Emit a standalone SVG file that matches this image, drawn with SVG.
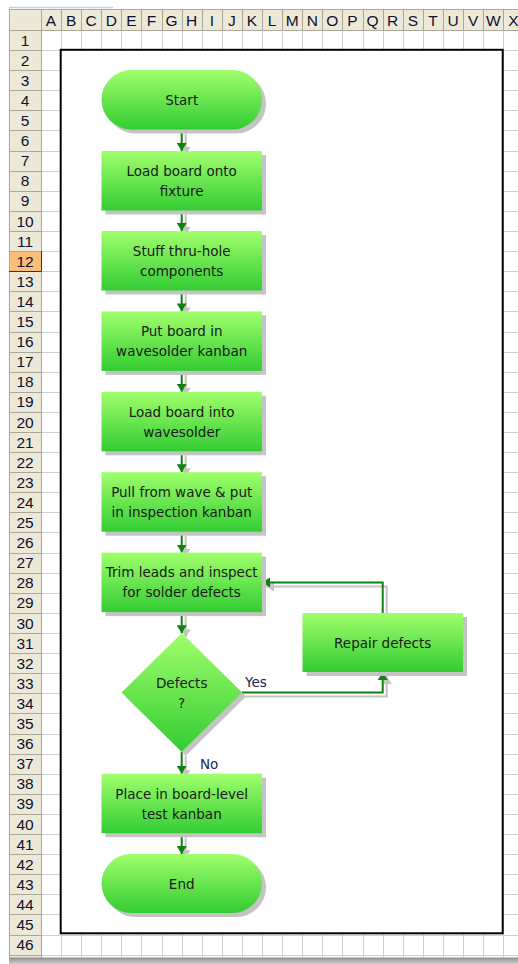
<svg xmlns="http://www.w3.org/2000/svg" width="518" height="964" viewBox="0 0 518 964">
  <style>
    .hdr { fill: #ECE9D8; }
    .hdrsep { stroke: #ACA899; stroke-width: 1; fill: none; }
    .grid { stroke: #CFCFCF; stroke-width: 1; fill: none; }
    .hl { font-family: "Liberation Sans", Arial, sans-serif; font-size: 15.5px; fill: #10102e; text-anchor: middle; }
    .lbl { font-family: "DejaVu Sans", Verdana, sans-serif; font-size: 13.5px; fill: #1a1a1a; text-anchor: middle; }
    .yn { font-family: "DejaVu Sans", Verdana, sans-serif; font-size: 13.5px; fill: #23234f; }
    .shape { fill: url(#nodeFill); }
    .shadow { fill: #C4C4C4; filter: url(#soft); }
    .conn { stroke: #108010; stroke-width: 2; fill: none; }
    .connShadow { stroke: #C4C4C4; stroke-width: 2; fill: none; }
  </style>
  <defs>
    <linearGradient id="nodeFill" x1="0" y1="0" x2="0" y2="1">
      <stop offset="0" stop-color="#A0FF6C"/>
      <stop offset="1" stop-color="#33CC33"/>
    </linearGradient>
    <linearGradient id="bottomShade" x1="0" y1="0" x2="0" y2="1">
      <stop offset="0" stop-color="#8E8E8E"/>
      <stop offset="1" stop-color="#CFCFCF"/>
    </linearGradient>
    <filter id="soft" x="-10%" y="-10%" width="120%" height="120%">
      <feGaussianBlur stdDeviation="0.7"/>
    </filter>
    <marker id="arrow" markerUnits="userSpaceOnUse" markerWidth="10" markerHeight="10" refX="8" refY="5" orient="auto">
      <path d="M0,0 L8,5 L0,10 z" fill="#108010"/>
    </marker>
    <marker id="arrowShadow" markerUnits="userSpaceOnUse" markerWidth="10" markerHeight="10" refX="8" refY="5" orient="auto">
      <path d="M0,0 L8,5 L0,10 z" fill="#C4C4C4"/>
    </marker>
  </defs>

  <rect x="0" y="0" width="518" height="964" fill="#FFFFFF"/>

  <!-- worksheet: headers and gridlines -->
  <g id="sheet">
    <line x1="9" y1="7.5" x2="113" y2="7.5" stroke="#C3CFE2" stroke-width="1.5"/>
    <rect class="hdr" x="9" y="9" width="509" height="21"/>
    <rect class="hdr" x="9" y="30" width="32" height="928"/>
    <rect x="9" y="251.5" width="32" height="20" fill="#FBBE78"/>
    <path class="grid" d="M41,50.5H518M41,70.5H518M41,90.5H518M41,110.5H518M41,130.5H518M41,151.5H518M41,171.5H518M41,191.5H518M41,211.5H518M41,231.5H518M41,251.5H518M41,271.5H518M41,291.5H518M41,311.5H518M41,332.5H518M41,352.5H518M41,372.5H518M41,392.5H518M41,412.5H518M41,432.5H518M41,452.5H518M41,472.5H518M41,492.5H518M41,512.5H518M41,532.5H518M41,553.5H518M41,573.5H518M41,593.5H518M41,613.5H518M41,633.5H518M41,653.5H518M41,673.5H518M41,693.5H518M41,713.5H518M41,734.5H518M41,754.5H518M41,774.5H518M41,794.5H518M41,814.5H518M41,834.5H518M41,854.5H518M41,874.5H518M41,894.5H518M41,914.5H518M41,935.5H518M41,955.5H518"/>
    <path class="grid" d="M61.5,30V958M81.5,30V958M101.5,30V958M121.5,30V958M141.5,30V958M162.5,30V958M182.5,30V958M202.5,30V958M222.5,30V958M242.5,30V958M262.5,30V958M282.5,30V958M302.5,30V958M322.5,30V958M342.5,30V958M363.5,30V958M383.5,30V958M403.5,30V958M423.5,30V958M443.5,30V958M463.5,30V958M483.5,30V958M503.5,30V958"/>
    <!-- header separators -->
    <path class="hdrsep" d="M9.5,9V958M9,9.5H518M9,30.5H518M41.5,9V958M61.5,9V30M81.5,9V30M101.5,9V30M121.5,9V30M141.5,9V30M162.5,9V30M182.5,9V30M202.5,9V30M222.5,9V30M242.5,9V30M262.5,9V30M282.5,9V30M302.5,9V30M322.5,9V30M342.5,9V30M363.5,9V30M383.5,9V30M403.5,9V30M423.5,9V30M443.5,9V30M463.5,9V30M483.5,9V30M503.5,9V30"/>
    <path class="hdrsep" d="M9,50.5H41M9,70.5H41M9,90.5H41M9,110.5H41M9,130.5H41M9,151.5H41M9,171.5H41M9,191.5H41M9,211.5H41M9,231.5H41M9,251.5H41M9,291.5H41M9,311.5H41M9,332.5H41M9,352.5H41M9,372.5H41M9,392.5H41M9,412.5H41M9,432.5H41M9,452.5H41M9,472.5H41M9,492.5H41M9,512.5H41M9,532.5H41M9,553.5H41M9,573.5H41M9,593.5H41M9,613.5H41M9,633.5H41M9,653.5H41M9,673.5H41M9,693.5H41M9,713.5H41M9,734.5H41M9,754.5H41M9,774.5H41M9,794.5H41M9,814.5H41M9,834.5H41M9,854.5H41M9,874.5H41M9,894.5H41M9,914.5H41M9,935.5H41M9,955.5H41"/>
    <path d="M9,271.5H41.5V251" stroke="#2B2B7A" stroke-width="1" fill="none"/>
    <!-- column letters -->
    <g class="hl">
      <text x="51" y="25.5">A</text><text x="71.1" y="25.5">B</text><text x="91.2" y="25.5">C</text><text x="111.3" y="25.5">D</text>
      <text x="131.4" y="25.5">E</text><text x="151.5" y="25.5">F</text><text x="171.6" y="25.5">G</text><text x="191.7" y="25.5">H</text>
      <text x="211.8" y="25.5">I</text><text x="231.9" y="25.5">J</text><text x="252" y="25.5">K</text><text x="272.1" y="25.5">L</text>
      <text x="292.2" y="25.5">M</text><text x="312.3" y="25.5">N</text><text x="332.4" y="25.5">O</text><text x="352.5" y="25.5">P</text>
      <text x="372.6" y="25.5">Q</text><text x="392.7" y="25.5">R</text><text x="412.8" y="25.5">S</text><text x="432.9" y="25.5">T</text>
      <text x="453" y="25.5">U</text><text x="473.1" y="25.5">V</text><text x="493.2" y="25.5">W</text><text x="513.3" y="25.5">X</text>
    </g>
    <!-- row numbers -->
    <g class="hl">
      <text x="25" y="45.6">1</text><text x="25" y="65.7">2</text><text x="25" y="85.8">3</text><text x="25" y="105.9">4</text>
      <text x="25" y="126">5</text><text x="25" y="146.1">6</text><text x="25" y="166.2">7</text><text x="25" y="186.3">8</text>
      <text x="25" y="206.4">9</text><text x="25" y="226.5">10</text><text x="25" y="246.6">11</text><text x="25" y="266.7">12</text>
      <text x="25" y="286.8">13</text><text x="25" y="306.9">14</text><text x="25" y="327">15</text><text x="25" y="347.1">16</text>
      <text x="25" y="367.2">17</text><text x="25" y="387.3">18</text><text x="25" y="407.4">19</text><text x="25" y="427.5">20</text>
      <text x="25" y="447.6">21</text><text x="25" y="467.7">22</text><text x="25" y="487.8">23</text><text x="25" y="507.9">24</text>
      <text x="25" y="528">25</text><text x="25" y="548.1">26</text><text x="25" y="568.2">27</text><text x="25" y="588.3">28</text>
      <text x="25" y="608.4">29</text><text x="25" y="628.5">30</text><text x="25" y="648.6">31</text><text x="25" y="668.7">32</text>
      <text x="25" y="688.8">33</text><text x="25" y="708.9">34</text><text x="25" y="729">35</text><text x="25" y="749.1">36</text>
      <text x="25" y="769.2">37</text><text x="25" y="789.3">38</text><text x="25" y="809.4">39</text><text x="25" y="829.5">40</text>
      <text x="25" y="849.6">41</text><text x="25" y="869.7">42</text><text x="25" y="889.8">43</text><text x="25" y="909.9">44</text>
      <text x="25" y="930">45</text><text x="25" y="950.1">46</text>
    </g>
    <rect x="9" y="957.5" width="509" height="6.5" fill="url(#bottomShade)"/>
  </g>

  <!-- white drawing frame -->
  <rect id="frame" x="60.7" y="49.8" width="442" height="883.5" fill="#FFFFFF" stroke="#000000" stroke-width="2"/>

  <!-- connectors -->
  <g id="connectors">
    <g transform="translate(4,4)">
      <path class="connShadow" marker-end="url(#arrowShadow)" d="M181.7,129.5V151"/>
      <path class="connShadow" marker-end="url(#arrowShadow)" d="M181.7,210.5V231"/>
      <path class="connShadow" marker-end="url(#arrowShadow)" d="M181.7,290.5V311.4"/>
      <path class="connShadow" marker-end="url(#arrowShadow)" d="M181.7,371V391.8"/>
      <path class="connShadow" marker-end="url(#arrowShadow)" d="M181.7,451.3V472.2"/>
      <path class="connShadow" marker-end="url(#arrowShadow)" d="M181.7,531.7V552.6"/>
      <path class="connShadow" marker-end="url(#arrowShadow)" d="M181.7,612.1V633.3"/>
      <path class="connShadow" marker-end="url(#arrowShadow)" d="M181.7,751.7V773.7"/>
      <path class="connShadow" marker-end="url(#arrowShadow)" d="M181.7,833.2V854"/>
      <path class="connShadow" marker-end="url(#arrowShadow)" d="M382.7,613V582.4H262.1"/>
      <path class="connShadow" marker-end="url(#arrowShadow)" d="M242,692.5H382.7V672"/>
    </g>
    <path class="conn" marker-end="url(#arrow)" d="M181.7,129.5V151"/>
    <path class="conn" marker-end="url(#arrow)" d="M181.7,210.5V231"/>
    <path class="conn" marker-end="url(#arrow)" d="M181.7,290.5V311.4"/>
    <path class="conn" marker-end="url(#arrow)" d="M181.7,371V391.8"/>
    <path class="conn" marker-end="url(#arrow)" d="M181.7,451.3V472.2"/>
    <path class="conn" marker-end="url(#arrow)" d="M181.7,531.7V552.6"/>
    <path class="conn" marker-end="url(#arrow)" d="M181.7,612.1V633.3"/>
    <path class="conn" marker-end="url(#arrow)" d="M181.7,751.7V773.7"/>
    <path class="conn" marker-end="url(#arrow)" d="M181.7,833.2V854"/>
    <path class="conn" marker-end="url(#arrow)" d="M382.7,613V582.4H262.1"/>
    <path class="conn" marker-end="url(#arrow)" d="M242,692.5H382.7V672"/>
    <text class="yn" x="245" y="686.5">Yes</text>
    <text class="yn" x="200" y="769">No</text>
  </g>

  <!-- nodes -->
  <g id="start">
    <rect class="shadow" x="105.5" y="74" width="160.5" height="59.5" rx="29.75"/>
    <rect class="shape" x="101.5" y="70" width="160.5" height="59.5" rx="29.75"/>
    <text class="lbl" x="181.7" y="105">Start</text>
  </g>
  <g id="load-fixture">
    <rect class="shadow" x="105.5" y="155" width="160.5" height="59.5"/>
    <rect class="shape" x="101.5" y="151" width="160.5" height="59.5"/>
    <text class="lbl" x="181.7" y="175.8">Load board onto</text>
    <text class="lbl" x="181.7" y="195.8">fixture</text>
  </g>
  <g id="stuff-thru-hole">
    <rect class="shadow" x="105.5" y="235" width="160.5" height="59.5"/>
    <rect class="shape" x="101.5" y="231" width="160.5" height="59.5"/>
    <text class="lbl" x="181.7" y="255.8">Stuff thru-hole</text>
    <text class="lbl" x="181.7" y="275.8">components</text>
  </g>
  <g id="wavesolder-kanban">
    <rect class="shadow" x="105.5" y="315.4" width="160.5" height="59.5"/>
    <rect class="shape" x="101.5" y="311.4" width="160.5" height="59.5"/>
    <text class="lbl" x="181.7" y="336.2">Put board in</text>
    <text class="lbl" x="181.7" y="356.2">wavesolder kanban</text>
  </g>
  <g id="load-wavesolder">
    <rect class="shadow" x="105.5" y="395.8" width="160.5" height="59.5"/>
    <rect class="shape" x="101.5" y="391.8" width="160.5" height="59.5"/>
    <text class="lbl" x="181.7" y="416.6">Load board into</text>
    <text class="lbl" x="181.7" y="436.6">wavesolder</text>
  </g>
  <g id="pull-from-wave">
    <rect class="shadow" x="105.5" y="476.2" width="160.5" height="59.5"/>
    <rect class="shape" x="101.5" y="472.2" width="160.5" height="59.5"/>
    <text class="lbl" x="181.7" y="497">Pull from wave &amp; put</text>
    <text class="lbl" x="181.7" y="517">in inspection kanban</text>
  </g>
  <g id="trim-inspect">
    <rect class="shadow" x="105.5" y="556.6" width="160.5" height="59.5"/>
    <rect class="shape" x="101.5" y="552.6" width="160.5" height="59.5"/>
    <text class="lbl" x="181.7" y="577.4">Trim leads and inspect</text>
    <text class="lbl" x="181.7" y="597.4">for solder defects</text>
  </g>
  <g id="defects-decision">
    <polygon class="shadow" points="185.7,637.3 246,696.5 185.7,755.7 125.5,696.5"/>
    <polygon class="shape" points="181.7,633.3 242,692.5 181.7,751.7 121.5,692.5"/>
    <text class="lbl" x="181.7" y="687.7">Defects</text>
    <text class="lbl" x="181.7" y="707.7">?</text>
  </g>
  <g id="repair-defects">
    <rect class="shadow" x="306.5" y="617" width="160.5" height="59"/>
    <rect class="shape" x="302.5" y="613" width="160.5" height="59"/>
    <text class="lbl" x="382.7" y="647.5">Repair defects</text>
  </g>
  <g id="test-kanban">
    <rect class="shadow" x="105.5" y="777.7" width="160.5" height="59.5"/>
    <rect class="shape" x="101.5" y="773.7" width="160.5" height="59.5"/>
    <text class="lbl" x="181.7" y="798.5">Place in board-level</text>
    <text class="lbl" x="181.7" y="818.5">test kanban</text>
  </g>
  <g id="end">
    <rect class="shadow" x="105.5" y="858" width="160.5" height="59" rx="29.5"/>
    <rect class="shape" x="101.5" y="854" width="160.5" height="59" rx="29.5"/>
    <text class="lbl" x="181.7" y="888.5">End</text>
  </g>
</svg>
